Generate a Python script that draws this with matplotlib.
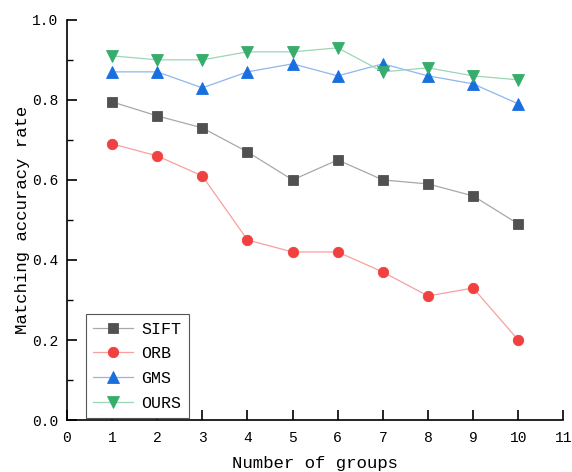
import numpy as np
import matplotlib
matplotlib.use("Agg")
import matplotlib.pyplot as plt
from matplotlib.ticker import MultipleLocator

plt.rcParams["font.family"] = ["Liberation Mono", "DejaVu Sans"]

# --- data ---
groups = [1, 2, 3, 4, 5, 6, 7, 8, 9, 10]
sift = [0.795, 0.76, 0.73, 0.67, 0.60, 0.65, 0.60, 0.59, 0.56, 0.49]
orb = [0.69, 0.66, 0.61, 0.45, 0.42, 0.42, 0.37, 0.31, 0.33, 0.20]
gms = [0.87, 0.87, 0.83, 0.87, 0.89, 0.86, 0.89, 0.86, 0.84, 0.79]
ours = [0.91, 0.90, 0.90, 0.92, 0.92, 0.93, 0.87, 0.88, 0.86, 0.85]

names = ["SIFT", "ORB", "GMS", "OURS"]
series = [sift, orb, gms, ours]
marker_cols = ["#515151", "#F14040", "#1A6FDF", "#37AD6B"]
line_cols = ["#a8a8a8", "#f7a0a0", "#8cb7ef", "#9bd6b5"]
markers = ["s", "o", "^", "v"]
msizes = [7.5, 7.5, 8.5, 8.5]

fig = plt.figure(figsize=(5.72, 4.72), dpi=100)
ax = fig.add_axes([0.117, 0.110, 0.868, 0.848])

for name, vals, mc, lc, m, ms in zip(names, series, marker_cols, line_cols, markers, msizes):
    ax.plot(groups, vals, color=lc, lw=0.9, marker=m, markersize=ms,
            markerfacecolor=mc, markeredgecolor=mc, markeredgewidth=0.6,
            label=name, zorder=3)

ax.set_xlim(0, 11)
ax.set_ylim(0, 1.0)
ax.xaxis.set_major_locator(MultipleLocator(1))
ax.yaxis.set_major_locator(MultipleLocator(0.2))
ax.yaxis.set_minor_locator(MultipleLocator(0.1))
ax.set_yticklabels([f"{v:.1f}" for v in ax.get_yticks()])

ax.spines["top"].set_visible(False)
ax.spines["right"].set_visible(False)
ax.spines["left"].set_linewidth(1.2)
ax.spines["bottom"].set_linewidth(1.2)
ax.tick_params(which="major", direction="in", length=7, width=1.2, labelsize=10.5, pad=6)
ax.tick_params(axis="x", which="major", pad=8)
ax.tick_params(which="minor", direction="in", length=4, width=1.0)
ax.tick_params(axis="x", which="minor", length=0)

ax.set_xlabel("Number of groups", fontsize=12.5, labelpad=8)
ax.set_ylabel("Matching accuracy rate", fontsize=12.5, labelpad=2)

leg = ax.legend(loc="lower left", bbox_to_anchor=(0.038, 0.005), fontsize=12,
                fancybox=False, edgecolor="#555555", framealpha=1,
                handlelength=2.4, handletextpad=0.5, borderpad=0.45,
                labelspacing=0.58, borderaxespad=0)
leg.get_frame().set_linewidth(0.8)

fig.savefig("out.png", dpi=100)
